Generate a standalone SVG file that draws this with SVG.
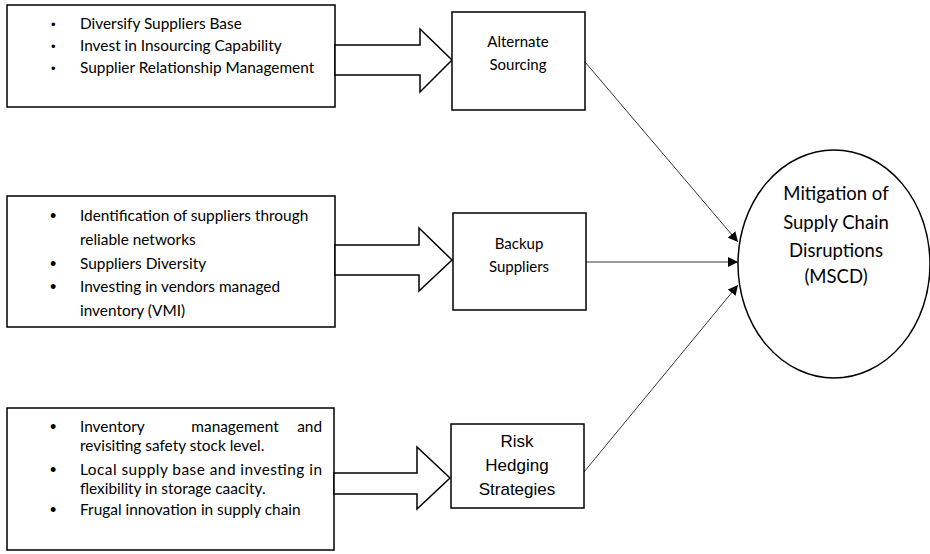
<svg xmlns="http://www.w3.org/2000/svg" width="930" height="554" viewBox="0 0 930 554">
<style>
  .box { fill: #fff; stroke: #000; stroke-width: 1.5; }
  .blk { fill: #fff; stroke: #000; stroke-width: 1.5; stroke-linejoin: miter; }
  .t { font-family: Lato, "Noto Sans", sans-serif; fill: #000; }
  .s1 { font-size: 15.4px; }
  .s2 { font-size: 15.4px; }
  .nd { font-size: 15px; text-anchor: middle; }
  .el { font-size: 18.5px; text-anchor: middle; }
  .ar { font-family: "Liberation Sans", Arial, sans-serif; font-size: 17px; text-anchor: middle; fill: #000; }
  .bul { font-family: "Liberation Sans", sans-serif; fill: #000; }
  .con { stroke: #000; stroke-width: 0.8; fill: none; }
</style>
<defs>
  <marker id="ah" viewBox="0 0 10 10" refX="10" refY="5" markerWidth="10" markerHeight="10" markerUnits="userSpaceOnUse" orient="auto">
    <path d="M0,0 L10,5 L0,10 z" fill="#000"/>
  </marker>
</defs>
<rect width="930" height="554" fill="#fff"/>

<g id="list1">
  <rect class="box" x="7" y="5" width="328" height="102"/>
  <g class="bul" font-size="13px"><text x="51" y="29">•</text><text x="51" y="51">•</text><text x="51" y="73">•</text></g>
  <text class="t s1" x="80" y="29">Diversify Suppliers Base</text>
  <text class="t s1" x="80" y="51">Invest in Insourcing Capability</text>
  <text class="t s1" x="80" y="73">Supplier Relationship Management</text>
</g>

<g id="list2">
  <rect class="box" x="7" y="196" width="328" height="131"/>
  <g class="bul" font-size="18px"><text x="50" y="222">•</text><text x="50" y="270">•</text><text x="50" y="293">•</text></g>
  <text class="t s2" x="80" y="221">Identification of suppliers through</text>
  <text class="t s2" x="80" y="245">reliable networks</text>
  <text class="t s2" x="80" y="269">Suppliers Diversity</text>
  <text class="t s2" x="80" y="292">Investing in vendors managed</text>
  <text class="t s2" x="80" y="316">inventory (VMI)</text>
</g>

<g id="list3">
  <rect class="box" x="7" y="408" width="327" height="142"/>
  <g class="bul" font-size="18px"><text x="50" y="433">•</text><text x="50" y="476">•</text><text x="50" y="516">•</text></g>
  <text class="t s2" x="80" y="432">Inventory</text>
  <text class="t s2" x="235" y="432" text-anchor="middle">management</text>
  <text class="t s2" x="322" y="432" text-anchor="end">and</text>
  <text class="t s2" x="80" y="451">revisiting safety stock level.</text>
  <text class="t s2" x="80" y="475" textLength="242" lengthAdjust="spacing">Local supply base and investing in</text>
  <text class="t s2" x="80" y="494">flexibility in storage caacity.</text>
  <text class="t s2" x="80" y="515">Frugal innovation in supply chain</text>
</g>

<g id="arrow1"><polygon class="blk" points="335,45 420,45 420,29 452,60 420,92 420,75 335,75"/></g>
<g id="arrow2"><polygon class="blk" points="335,245 419,245 419,228 452,260 419,291 419,275 335,275"/></g>
<g id="arrow3"><polygon class="blk" points="334,473 417,473 417,447 450,478 417,509 417,494 334,494"/></g>

<g id="alternate-sourcing">
  <rect class="box" x="452" y="12" width="133" height="98"/>
  <text class="t nd" x="518" y="47">Alternate</text>
  <text class="t nd" x="518" y="70">Sourcing</text>
</g>

<g id="backup-suppliers">
  <rect class="box" x="453" y="213" width="133" height="97"/>
  <text class="t nd" x="519" y="249">Backup</text>
  <text class="t nd" x="519" y="272">Suppliers</text>
</g>

<g id="risk-hedging">
  <rect class="box" x="451" y="424" width="133" height="84"/>
  <text class="ar" x="517" y="447">Risk</text>
  <text class="ar" x="517" y="471">Hedging</text>
  <text class="ar" x="517" y="495">Strategies</text>
</g>

<g id="mscd">
  <ellipse class="box" cx="834" cy="264" rx="96" ry="114"/>
  <text class="t el" x="836" y="200">Mitigation of</text>
  <text class="t el" x="836" y="229">Supply Chain</text>
  <text class="t el" x="836" y="257">Disruptions</text>
  <text class="t el" x="836" y="283">(MSCD)</text>
</g>

<g id="connectors">
  <line class="con" x1="585" y1="62" x2="738" y2="242" marker-end="url(#ah)"/>
  <line class="con" x1="586" y1="262" x2="738" y2="262" marker-end="url(#ah)"/>
  <line class="con" x1="584" y1="472" x2="738" y2="285" marker-end="url(#ah)"/>
</g>
</svg>
